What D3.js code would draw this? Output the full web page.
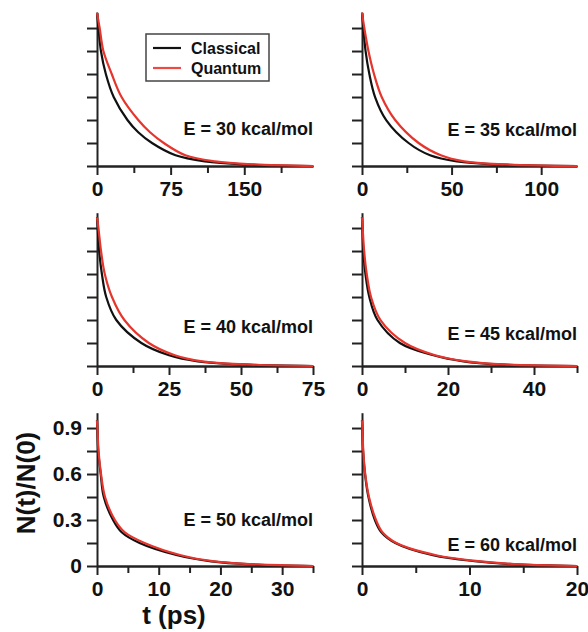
<!DOCTYPE html>
<html>
<head>
<meta charset="utf-8">
<script src="https://cdn.jsdelivr.net/npm/d3@7/dist/d3.min.js"></script>
<style>
body { margin: 0; background: #fff; }
svg { display: block; font-family: "Liberation Sans", Arial, sans-serif; font-weight: bold; }
.axis path, .axis line { stroke: #222; stroke-width: 2; }
.axis text { font-family: "Liberation Sans", Arial, sans-serif; font-size: 21px; font-weight: bold; fill: #111; }
.curve { fill: none; stroke-width: 2.2; }
</style>
</head>
<body>
<script>
// energies (kcal/mol) of the six panels and their time ranges (ps)
var energies = [30, 35, 40, 45, 50, 60];
var xMax = [220, 120, 75, 50, 35, 20];
var xMajor = [[0, 75, 150], [0, 50, 100], [0, 25, 50, 75], [0, 20, 40], [0, 10, 20, 30], [0, 10, 20]];
var xMinor = [[37.5, 112.5, 187.5], [25, 75], [12.5, 37.5, 62.5], [10, 30, 50], [5, 15, 25, 35], [5, 15]];
var yTicks = [0, 0.15, 0.3, 0.45, 0.6, 0.75, 0.9];
var yLabels = [0, 0.3, 0.6, 0.9];

// N(t)/N(0), [t, value]
var classical30 = [[0,1.0],[1.5,0.9],[4,0.75],[9,0.6],[17,0.45],[31,0.3],[42,0.22],[56,0.15],[80,0.07],[110,0.03],[150,0.01],[220,0]];
var quantum30   = [[0,1.0],[2.7,0.9],[6.5,0.75],[15,0.6],[25,0.45],[42,0.3],[54,0.22],[68,0.15],[90,0.07],[120,0.03],[160,0.01],[220,0]];
var classical35 = [[0,1.0],[0.75,0.9],[2,0.75],[4.1,0.6],[7.3,0.45],[13.5,0.3],[26,0.15],[38,0.07],[53,0.03],[75,0.01],[120,0]];
var quantum35   = [[0,1.0],[1.3,0.9],[3.6,0.75],[6.7,0.6],[11,0.45],[18.5,0.3],[31.6,0.15],[44,0.07],[57,0.03],[80,0.01],[120,0]];
var classical40 = [[0,0.97],[0.25,0.9],[0.75,0.75],[1.7,0.6],[3.2,0.45],[6.7,0.3],[15.4,0.15],[25,0.07],[35,0.03],[50,0.01],[75,0]];
var quantum40   = [[0,0.97],[0.5,0.9],[1.4,0.75],[2.7,0.6],[5.2,0.45],[9.5,0.3],[18,0.15],[27,0.07],[36.5,0.03],[52,0.01],[75,0]];
var classical45 = [[0,0.97],[0.1,0.9],[0.3,0.75],[0.8,0.6],[1.7,0.45],[3.6,0.3],[8.8,0.15],[16.6,0.07],[23.6,0.03],[32,0.01],[50,0]];
var quantum45   = [[0,0.97],[0.15,0.9],[0.5,0.75],[1.1,0.6],[2.1,0.45],[4.3,0.3],[10,0.15],[17,0.07],[24.3,0.03],[33,0.01],[50,0]];
var classical50 = [[0,0.95],[0.05,0.9],[0.2,0.75],[0.6,0.6],[1.1,0.45],[2.6,0.3],[4,0.22],[6.9,0.15],[13,0.07],[18.5,0.03],[25,0.01],[35,0]];
var quantum50   = [[0,0.95],[0.07,0.9],[0.25,0.75],[0.65,0.6],[1.3,0.45],[2.9,0.3],[4.5,0.22],[7.7,0.15],[13.6,0.07],[19,0.03],[26,0.01],[35,0]];
var classical60 = [[0,0.95],[0.03,0.9],[0.1,0.75],[0.28,0.6],[0.6,0.45],[1.2,0.3],[1.8,0.22],[3.1,0.15],[6.6,0.07],[10.7,0.03],[14.4,0.01],[20,0]];
var quantum60   = [[0,0.95],[0.04,0.9],[0.12,0.75],[0.3,0.6],[0.65,0.45],[1.3,0.3],[1.9,0.22],[3.2,0.15],[6.9,0.07],[11,0.03],[14.8,0.01],[20,0]];

var classical = [classical30, classical35, classical40, classical45, classical50, classical60];
var quantum = [quantum30, quantum35, quantum40, quantum45, quantum50, quantum60];

var width = 588, height = 632;
var colLeft = [97, 362], colWidth = [216, 215];
var rowAxis = [166, 366, 566], plotH = 153.3;
var labelLift = [31, 30, 33, 26, 40, 15];   // baseline of "E = .." above x axis

var svg = d3.select("body").append("svg")
    .attr("width", width)
    .attr("height", height);

energies.forEach(function(e, i) {
    var col = i % 2, row = Math.floor(i / 2);
    var g = svg.append("g")
        .attr("transform", "translate(" + colLeft[col] + "," + (rowAxis[row] - plotH) + ")");

    var x = d3.scaleLinear().domain([0, xMax[i]]).range([0, colWidth[col]]);
    var y = d3.scaleLinear().domain([0, 1]).range([plotH, 0]);

    //minor x ticks
    g.append("g").attr("class", "axis")
        .attr("transform", "translate(0," + plotH + ")")
        .call(d3.axisBottom(x).tickValues(xMinor[i]).tickSize(7).tickSizeOuter(0).tickFormat(""));
    //major x ticks with labels
    g.append("g").attr("class", "axis")
        .attr("transform", "translate(0," + plotH + ")")
        .call(d3.axisBottom(x).tickValues(xMajor[i]).tickSize(9).tickSizeOuter(0).tickPadding(6).tickFormat(d3.format("d")));

    //y axis
    g.append("g").attr("class", "axis")
        .call(d3.axisLeft(y).tickValues(yTicks).tickSize(10).tickSizeOuter(0).tickPadding(5)
            .tickFormat(function(d) {
                if (i !== 4 || yLabels.indexOf(d) < 0) return "";
                return d === 0 ? "0" : d3.format(".1f")(d);
            }));

    var line = d3.line()
        .x(function(d) { return x(d[0]); })
        .y(function(d) { return y(d[1]); })
        .curve(d3.curveCatmullRom.alpha(0.5));

    g.append("path").datum(classical[i]).attr("class", "curve")
        .attr("stroke", "#111").attr("d", line);
    g.append("path").datum(quantum[i]).attr("class", "curve")
        .attr("stroke", "#e5352d").attr("d", line);

    g.append("text")
        .attr("x", colWidth[col])
        .attr("y", plotH - labelLift[i])
        .attr("text-anchor", "end")
        .style("font-size", "18px")
        .attr("fill", "#111")
        .text("E = " + e + " kcal/mol");
});

//legend in the first panel
var legend = svg.append("g").attr("transform", "translate(146,34)");
legend.append("rect")
    .attr("width", 123).attr("height", 47)
    .attr("fill", "#fff").attr("stroke", "#444").attr("stroke-width", 1.5);
var legendItems = [["Classical", "#111"], ["Quantum", "#ec4a42"]];
legendItems.forEach(function(d, k) {
    var ly = 14 + k * 20;
    legend.append("line")
        .attr("x1", 7).attr("x2", 35).attr("y1", ly).attr("y2", ly)
        .attr("stroke", d[1]).attr("stroke-width", 2.2);
    legend.append("text")
        .attr("x", 45).attr("y", ly + 6)
        .style("font-size", "16px").attr("fill", "#111")
        .text(d[0]);
});

//axis titles
svg.append("text")
    .attr("x", 174).attr("y", 624)
    .attr("text-anchor", "middle")
    .style("font-size", "26px").attr("fill", "#111")
    .text("t (ps)");

svg.append("text")
    .attr("transform", "translate(35,483) rotate(-90)")
    .attr("text-anchor", "middle")
    .style("font-size", "26px").attr("fill", "#111")
    .text("N(t)/N(0)");
</script>
</body>
</html>
